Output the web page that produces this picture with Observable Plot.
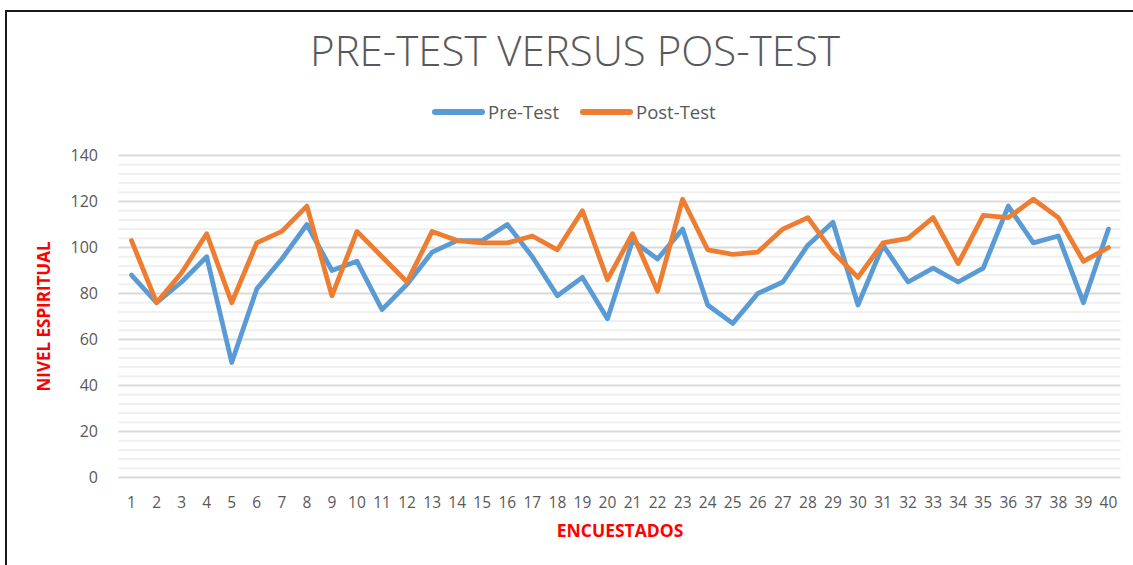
<!DOCTYPE html>
<html>
<head>
<meta charset="utf-8">
<script src="https://cdn.jsdelivr.net/npm/d3@7"></script>
<script src="https://cdn.jsdelivr.net/npm/@observablehq/plot@0.6"></script>
<style>
  html, body { margin: 0; padding: 0; background: #fff; }
  #page { position: relative; width: 1133px; height: 565px; overflow: hidden; font-family: "Open Sans", sans-serif; }
  #frame { position: absolute; left: 5px; top: 10px; width: 1140px; height: 600px; border-top: 2px solid #1a1a1a; border-left: 2px solid #1a1a1a; }
  #title { position: absolute; left: 0; top: 22px; width: 1150px; text-align: center; font-size: 42px; color: #595959; font-weight: 300; line-height: 56px; white-space: nowrap; }
  #legend { position: absolute; top: 100px; left: 432px; display: flex; align-items: center; font-size: 18.5px; color: #595959; line-height: 24px; white-space: nowrap; }
  #legend .sw { display: inline-block; width: 53px; height: 6px; border-radius: 3px; margin-right: 3px; }
  #legend .item { display: flex; align-items: center; margin-right: 21px; }
  #chart { position: absolute; left: 0; top: 140px; }
</style>
</head>
<body>
<div id="page">
  <div id="frame"></div>
  <div id="title"></div>
  <div id="legend"></div>
  <div id="chart"></div>
</div>
<script>
const titleText = "PRE-TEST VERSUS POS-TEST";
const series = ["Pre-Test", "Post-Test"];
const colors = ["#5b9bd5", "#ed7d31"];
const encuestados = d3.range(1, 41);
const preTest = [88, 76, 85, 96, 50, 82, 95, 110, 90, 94, 73, 84, 98, 103, 103, 110, 96, 79, 87, 69,
                 103, 95, 108, 75, 67, 80, 85, 101, 111, 75, 101, 85, 91, 85, 91, 118, 102, 105, 76, 108];
const postTest = [103, 76, 89, 106, 76, 102, 107, 118, 79, 107, 96, 85, 107, 103, 102, 102, 105, 99, 116, 86,
                  106, 81, 121, 99, 97, 98, 108, 113, 98, 87, 102, 104, 113, 93, 114, 113, 121, 113, 94, 100];
const yMajorTicks = [0, 20, 40, 60, 80, 100, 120, 140];
const yMinorTicks = d3.range(0, 141, 4).filter(v => v % 20 !== 0);
const yLabel = "NIVEL ESPIRITUAL";
const xLabel = "ENCUESTADOS";

document.getElementById("title").textContent = titleText;
const legend = document.getElementById("legend");
series.forEach((s, i) => {
  const item = document.createElement("div");
  item.className = "item";
  const sw = document.createElement("span");
  sw.className = "sw";
  sw.style.background = colors[i];
  const t = document.createElement("span");
  t.textContent = s;
  item.appendChild(sw); item.appendChild(t);
  legend.appendChild(item);
});

const rows = [];
encuestados.forEach((e, i) => {
  rows.push({e, v: preTest[i], s: series[0]});
  rows.push({e, v: postTest[i], s: series[1]});
});

const chart = Plot.plot({
  width: 1133,
  height: 425,
  marginTop: 15,
  marginBottom: 88,
  marginLeft: 118.5,
  marginRight: 12.5,
  x: {domain: [0.5, 40.5]},
  y: {domain: [0, 140]},
  color: {domain: series, range: colors},
  style: {fontFamily: "'Open Sans', sans-serif", color: "#595959", background: "transparent"},
  marks: [
    Plot.ruleY(yMinorTicks, {stroke: "#f0f0f0", strokeWidth: 2}),
    Plot.ruleY(yMajorTicks, {stroke: "#d9d9d9", strokeWidth: 2}),
    Plot.axisY(yMajorTicks, {tickSize: 0, tickPadding: 21, label: null, fontSize: 16, fill: "#595959"}),
    Plot.axisX(encuestados, {tickSize: 0, tickPadding: 19, label: null, fontSize: 15.5, fill: "#595959", tickFormat: d => String(d)}),
    Plot.line(rows, {x: "e", y: "v", z: "s", stroke: "s", strokeWidth: 4.8, strokeLinejoin: "round", strokeLinecap: "round"}),
    Plot.text([yLabel], {frameAnchor: "left", textAnchor: "middle", rotate: -90, dx: -74, fill: "#ff0000", fontWeight: "bold", fontSize: 17, fontFamily: "'Open Sans', sans-serif"}),
    Plot.text([xLabel], {frameAnchor: "bottom", textAnchor: "middle", dy: 59, fill: "#ff0000", fontWeight: "bold", fontSize: 17.5, letterSpacing: "0.8px", fontFamily: "'Open Sans', sans-serif"})
  ]
});
document.getElementById("chart").appendChild(chart);
</script>
</body>
</html>
